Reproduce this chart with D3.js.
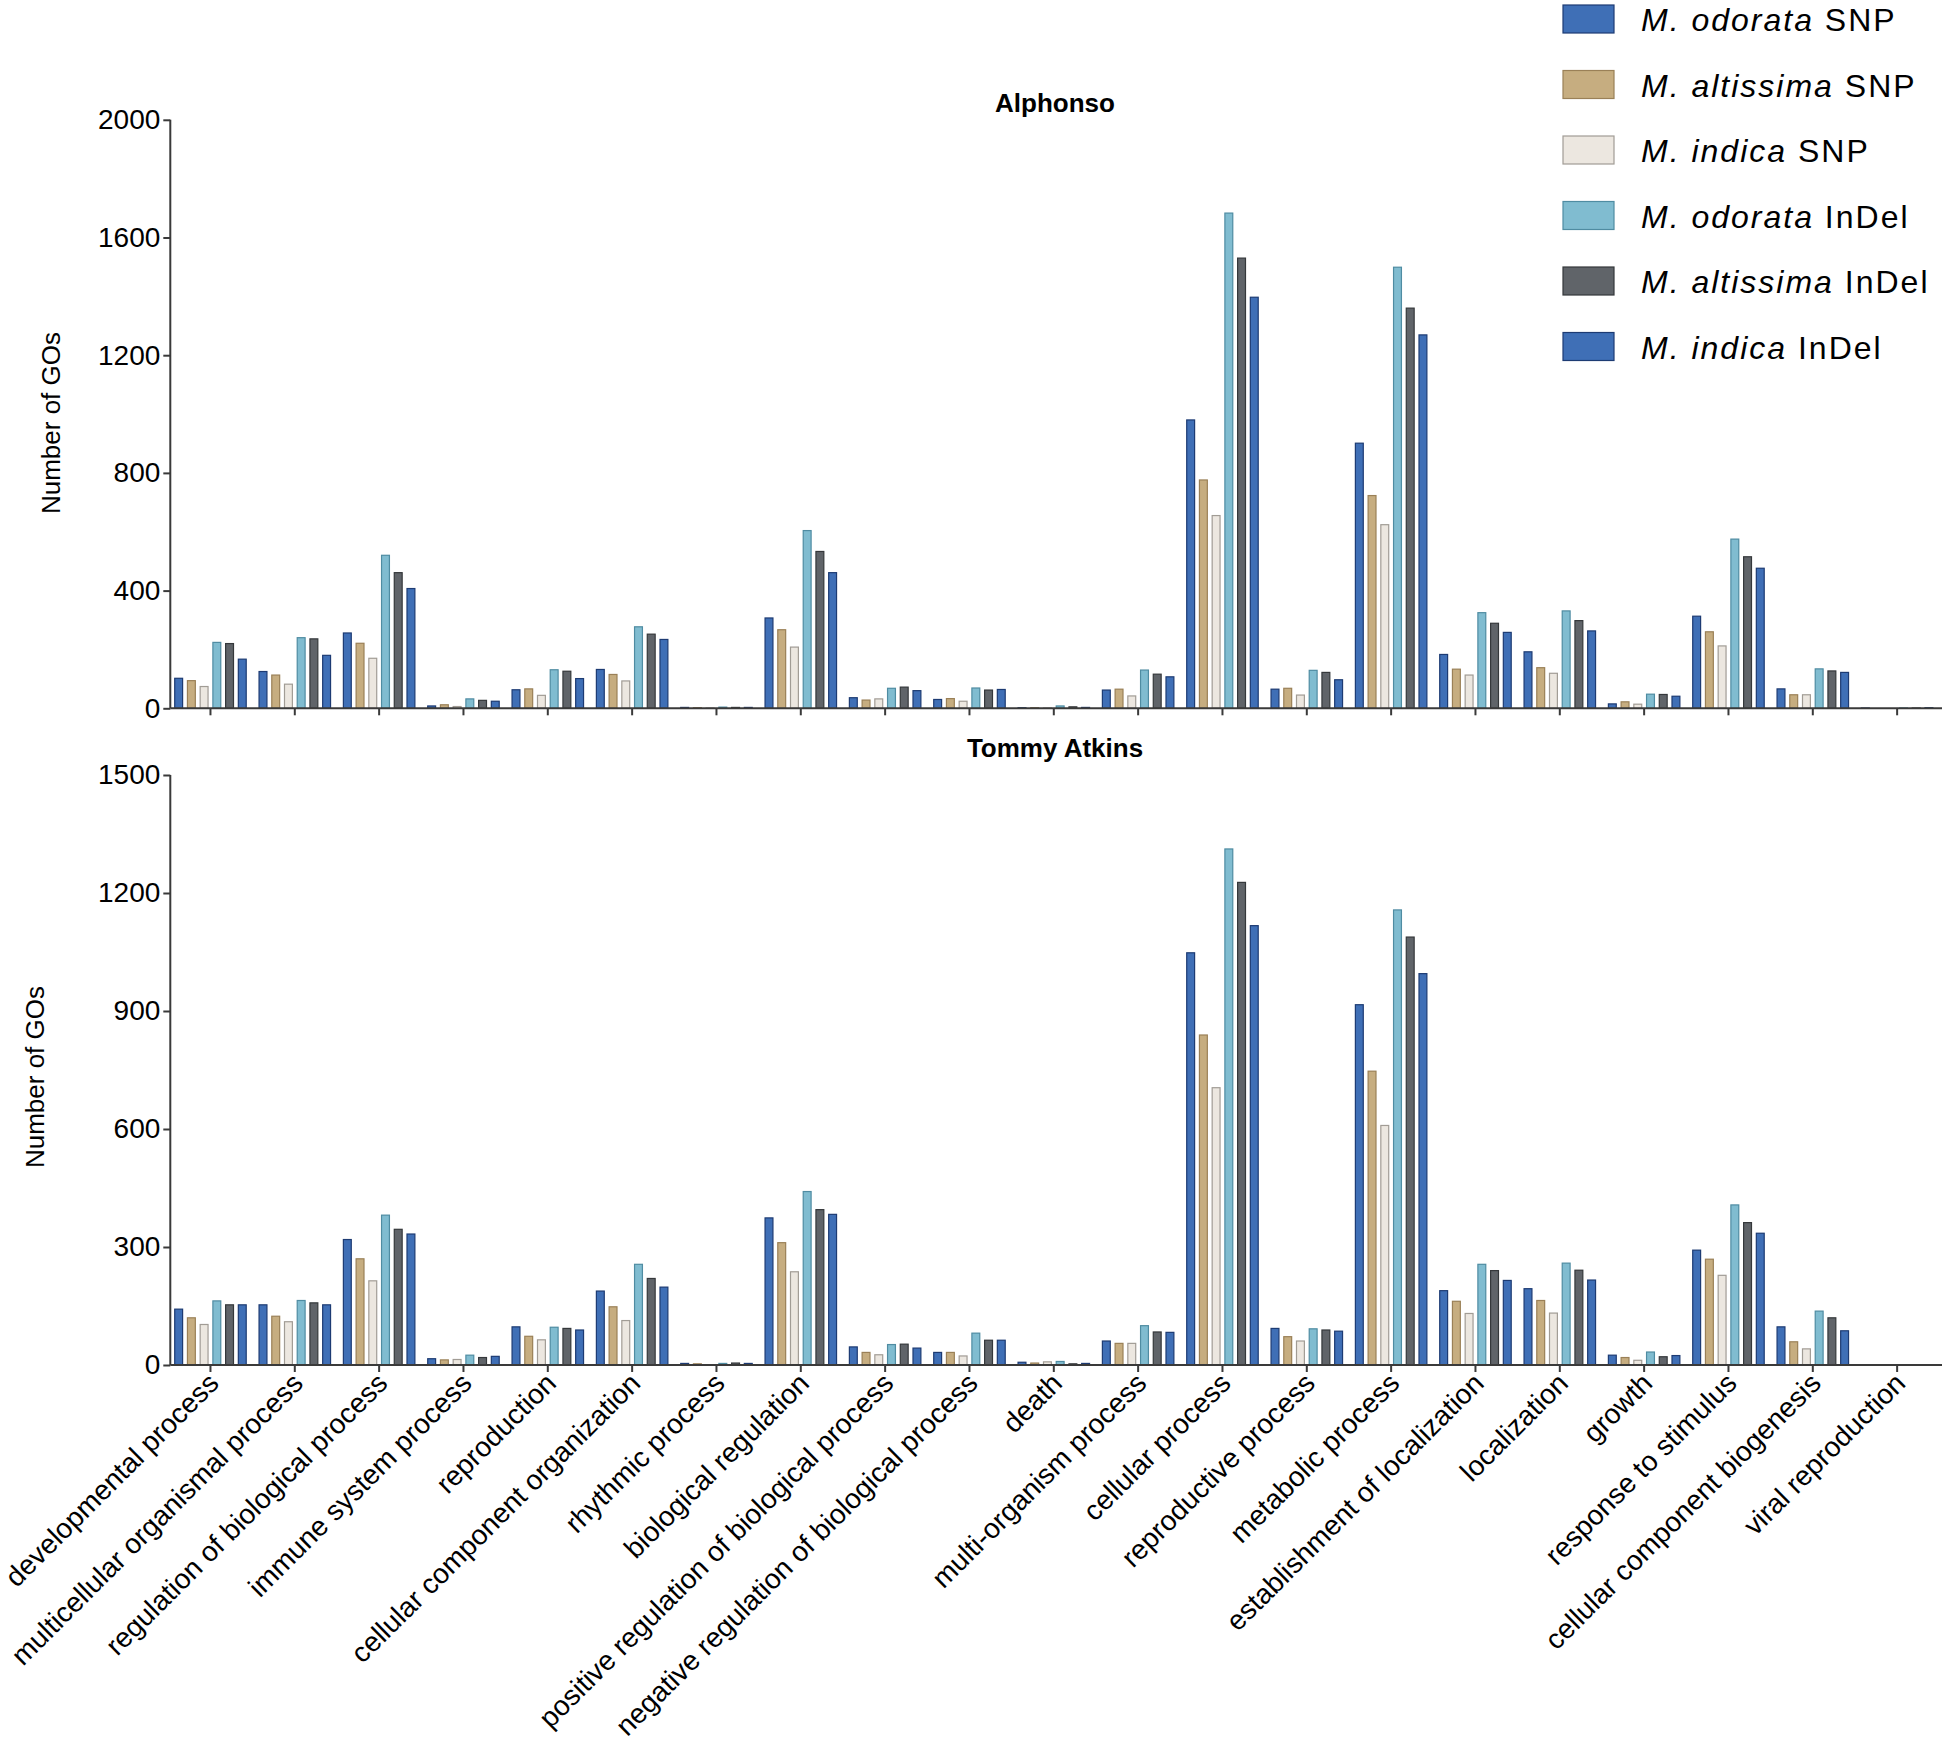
<!DOCTYPE html>
<html>
<head>
<meta charset="utf-8">
<script src="https://cdn.jsdelivr.net/npm/d3@7"></script>
<style>
  html, body { margin: 0; padding: 0; background: #ffffff; }
  svg { display: block; font-family: "Liberation Sans", Arial, Helvetica, sans-serif; }
</style>
</head>
<body>
<svg id="chart" width="1944" height="1753"></svg>
<script>
// ---------------- DATA ----------------
const categories = [
  "developmental process", "multicellular organismal process", "regulation of biological process",
  "immune system process", "reproduction", "cellular component organization", "rhythmic process",
  "biological regulation", "positive regulation of biological process",
  "negative regulation of biological process", "death", "multi-organism process", "cellular process",
  "reproductive process", "metabolic process", "establishment of localization", "localization",
  "growth", "response to stimulus", "cellular component biogenesis", "viral reproduction"
];

const seriesSpecies = ["M. odorata", "M. altissima", "M. indica", "M. odorata", "M. altissima", "M. indica"];
const seriesType    = ["SNP", "SNP", "SNP", "InDel", "InDel", "InDel"];

// Alphonso panel
const alphonsoOdorataSNP    = [102,125,256,8,63,132,3,307,36,30,2,62,980,65,901,183,192,15,313,66,1];
const alphonsoAltissimaSNP  = [94,113,221,12,66,115,2,267,28,33,2,65,776,68,723,133,138,22,260,46,0];
const alphonsoIndicaSNP     = [74,82,170,6,44,93,1,208,32,24,1,42,655,45,624,113,119,14,212,46,0];
const alphonsoOdorataInDel  = [224,240,520,32,131,277,4,604,68,69,8,130,1683,129,1499,325,331,48,575,134,1];
const alphonsoAltissimaInDel= [220,236,461,27,126,252,3,533,72,62,5,116,1530,122,1360,289,298,47,515,127,1];
const alphonsoIndicaInDel   = [167,180,407,24,101,234,3,461,60,64,3,107,1397,97,1269,258,263,41,476,122,2];

// Tommy Atkins panel
const tommyOdorataSNP     = [142,153,319,16,97,188,4,374,46,32,7,61,1048,93,916,189,194,25,292,97,0];
const tommyAltissimaSNP   = [120,124,270,13,73,148,3,311,32,32,5,55,839,72,747,162,164,19,269,59,0];
const tommyIndicaSNP      = [103,110,214,14,64,113,1,237,26,23,8,55,705,61,609,131,132,12,228,41,0];
const tommyOdorataInDel   = [163,164,381,25,96,256,4,441,52,81,9,100,1312,92,1157,256,259,33,407,137,0];
const tommyAltissimaInDel = [153,158,345,19,93,220,5,395,53,63,3,84,1227,89,1088,240,241,21,362,120,0];
const tommyIndicaInDel    = [153,153,333,22,89,198,4,383,43,63,4,83,1117,86,995,215,216,24,335,87,0];

const alphonsoTicks = [0, 400, 800, 1200, 1600, 2000];
const tommyTicks = [0, 300, 600, 900, 1200, 1500];

// ---------------- STYLE ----------------
const fills   = ["#3f6fb6", "#c6ad80", "#ece7e0", "#80bcd0", "#606469", "#3f6fb6"];
const strokes = ["#1d3b73", "#9a8057", "#a19c95", "#4f8ca2", "#35383b", "#1d3b73"];
const axisColor = "#3a3a3a";

const svg = d3.select("#chart");
const seriesIdx = d3.range(6);

const x0 = d3.scaleBand().domain(categories).range([168.3, 1939.3]).padding(0);
const groupW = 71.5;
const x1 = d3.scaleBand().domain(seriesIdx).range([0, groupW]).paddingInner(0.38).paddingOuter(0);
const groupOffset = (x0.bandwidth() - groupW) / 2;

function drawPanel(cfg) {
  const { values, yTop, yBottom, maxV, ticks, title, titleY, labelX, labelY, showLabels } = cfg;
  const y = d3.scaleLinear().domain([0, maxV]).range([yBottom, yTop]);
  const g = svg.append("g");

  // bars
  const groups = g.selectAll("g.grp").data(categories).join("g")
    .attr("class", "grp")
    .attr("transform", c => `translate(${x0(c) + groupOffset},0)`);
  groups.selectAll("rect").data((c, ci) => seriesIdx.map(s => ({ s, v: values[s][ci] })))
    .join("rect")
    .attr("x", d => x1(d.s))
    .attr("width", x1.bandwidth())
    .attr("y", d => y(d.v))
    .attr("height", d => Math.max(0, y(0) - y(d.v)))
    .attr("fill", d => fills[d.s])
    .attr("stroke", d => strokes[d.s])
    .attr("stroke-width", 1.2);

  // y axis
  const yAxis = g.append("g").attr("transform", `translate(${x0.range()[0] + 2},0)`)
    .call(d3.axisLeft(y).tickValues(ticks).tickSize(7).tickPadding(3).tickFormat(d3.format("d")));
  yAxis.select(".domain").attr("stroke", axisColor).attr("stroke-width", 2).attr("d", `M0,${yTop}V${yBottom}`);
  yAxis.selectAll(".tick line").attr("stroke", axisColor).attr("stroke-width", 2);
  yAxis.selectAll(".tick text").attr("fill", "#000").style("font-size", "28px")
    .style("font-family", "'Liberation Sans', Arial, sans-serif");

  // x axis
  const xAxis = g.append("g").attr("transform", `translate(0,${yBottom})`)
    .call(d3.axisBottom(x0).tickSize(7).tickSizeOuter(0).tickFormat(""));
  xAxis.select(".domain").attr("stroke", axisColor).attr("stroke-width", 2)
    .attr("d", `M${x0.range()[0] + 2},0H1942`);
  xAxis.selectAll(".tick line").attr("stroke", axisColor).attr("stroke-width", 2);

  if (showLabels) {
    xAxis.selectAll(".tick text").remove();
    xAxis.selectAll(".tick").append("text")
      .attr("transform", "translate(3,13) rotate(-45)")
      .attr("text-anchor", "end")
      .attr("dy", "0.35em")
      .attr("fill", "#000")
      .style("font-size", "28px")
      .text(d => d);
  }

  // title
  svg.append("text").attr("x", 1055).attr("y", titleY).attr("text-anchor", "middle")
    .style("font-size", "26px").style("font-weight", "bold").text(title);

  // y label
  svg.append("text").attr("transform", `translate(${labelX},${labelY}) rotate(-90)`)
    .attr("text-anchor", "middle").attr("dy", "0.35em")
    .style("font-size", "26px").text("Number of GOs");
}

drawPanel({
  values: [alphonsoOdorataSNP, alphonsoAltissimaSNP, alphonsoIndicaSNP, alphonsoOdorataInDel, alphonsoAltissimaInDel, alphonsoIndicaInDel],
  yTop: 119.8, yBottom: 708.3, maxV: 2000, ticks: alphonsoTicks,
  title: "Alphonso", titleY: 112, labelX: 51, labelY: 423, showLabels: false
});

drawPanel({
  values: [tommyOdorataSNP, tommyAltissimaSNP, tommyIndicaSNP, tommyOdorataInDel, tommyAltissimaInDel, tommyIndicaInDel],
  yTop: 775, yBottom: 1365, maxV: 1500, ticks: tommyTicks,
  title: "Tommy Atkins", titleY: 757, labelX: 35, labelY: 1077, showLabels: true
});

// legend
const legend = svg.append("g").attr("transform", "translate(1563,5)");
const rowH = 65.5;
const lg = legend.selectAll("g").data(seriesIdx).join("g")
  .attr("transform", i => `translate(0,${i * rowH})`);
lg.append("rect").attr("width", 51).attr("height", 28)
  .attr("fill", i => fills[i]).attr("stroke", i => strokes[i]).attr("stroke-width", 1.2);
const lt = lg.append("text").attr("x", 78).attr("y", 26).style("font-size", "32px")
  .style("letter-spacing", "2px").attr("fill", "#000");
lt.append("tspan").style("font-style", "italic").text(i => seriesSpecies[i]);
lt.append("tspan").text(i => " " + seriesType[i]);
</script>
</body>
</html>
